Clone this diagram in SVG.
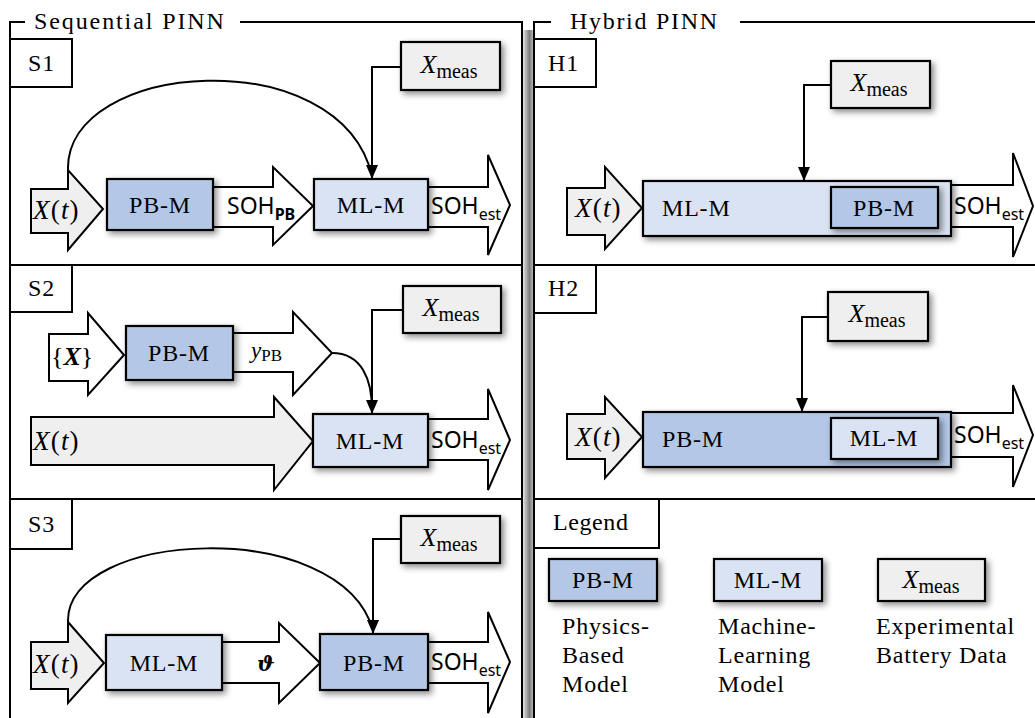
<svg xmlns="http://www.w3.org/2000/svg" width="1035" height="718" viewBox="0 0 1035 718" font-family="Liberation Serif, serif">
<style>
.frame{fill:none;stroke:#000;stroke-width:2}
.lbl{fill:#fff;stroke:#000;stroke-width:2}
.pb{fill:#b4c7e7;stroke:#000;stroke-width:2.2;filter:url(#sh)}
.ml{fill:#dae3f3;stroke:#000;stroke-width:2.2;filter:url(#sh)}
.xm{fill:#efefef;stroke:#000;stroke-width:2.2;filter:url(#sh)}
.arw{fill:#fff;stroke:#000;stroke-width:2;stroke-linejoin:miter}
.arg{fill:#efefef;stroke:#000;stroke-width:2;stroke-linejoin:miter}
.con{fill:none;stroke:#000;stroke-width:2}
.t{font-size:24px;letter-spacing:0.8px;fill:#000}
.c{text-anchor:middle}
.m{font-size:26px;fill:#000}
.xt{font-size:27px;letter-spacing:1.2px;fill:#000}
.i{font-style:italic}
.sub{font-size:20px}
.s{font-size:23px;fill:#000}
.ss{font-size:16px}
</style>
<defs>
<filter id="sh" x="-20%" y="-30%" width="140%" height="170%">
<feDropShadow dx="3" dy="3" stdDeviation="3" flood-color="#000" flood-opacity="0.45"/>
</filter>
<linearGradient id="gap" x1="0" y1="0" x2="1" y2="0">
<stop offset="0" stop-color="#e4e4e4"/>
<stop offset="0.65" stop-color="#7c7c7c"/>
<stop offset="1" stop-color="#b4b4b4"/>
</linearGradient>
<marker id="ah" viewBox="0 0 14 12" refX="14" refY="6" markerWidth="14" markerHeight="12" markerUnits="userSpaceOnUse" orient="auto">
<path d="M0,0 L14,6 L0,12 Z" fill="#000"/>
</marker>
</defs>

<!-- frames -->
<g id="frames">
<rect x="523" y="30" width="10" height="688" fill="url(#gap)"/>
<path class="frame" d="M10,718 V22 H25 M240,22 H522 V718"/>
<path class="frame" d="M534,718 V22 H551 M740,22 H1035"/>
<path class="frame" d="M10,265 H522 M10,499 H522 M534,265 H1035 M534,499 H1035"/>
<text class="t" x="34" y="29" style="letter-spacing:1.9px">Sequential PINN</text>
<text class="t" x="570" y="29" style="letter-spacing:1.7px">Hybrid PINN</text>
</g>

<!-- panel labels -->
<g id="label-S1"><rect class="lbl" x="10" y="39" width="62" height="48"/><text class="t" x="28" y="71">S1</text></g>
<g id="label-S2"><rect class="lbl" x="10" y="265" width="62" height="47"/><text class="t" x="28" y="296">S2</text></g>
<g id="label-S3"><rect class="lbl" x="10" y="499" width="62" height="50"/><text class="t" x="28" y="532">S3</text></g>
<g id="label-H1"><rect class="lbl" x="534" y="39" width="62" height="48"/><text class="t" x="548" y="71">H1</text></g>
<g id="label-H2"><rect class="lbl" x="534" y="265" width="62" height="48"/><text class="t" x="548" y="296">H2</text></g>
<g id="label-Legend"><rect class="lbl" x="534" y="499" width="125" height="49"/><text class="t" x="553" y="530" style="letter-spacing:0.6px">Legend</text></g>

<!-- S1 -->
<g id="s1-xt"><polygon class="arg" points="31,189 68,189 68,170 103,209 68,250 68,233 31,233"/>
<text class="xt" x="33" y="219"><tspan class="i">X</tspan>(<tspan class="i">t</tspan>)</text></g>
<g id="s1-sohpb"><polygon class="arw" points="213,187 273,187 273,167 313,206 273,245 273,227 213,227"/>
<text class="s" font-family="Noto Sans, DejaVu Sans, sans-serif" x="227" y="214">SOH<tspan class="ss" dy="6" font-weight="bold">PB</tspan></text></g>
<g id="s1-sohest"><polygon class="arw" points="428,187 488,187 488,155 510,205 488,255 488,227 428,227"/>
<text class="s" font-family="Noto Sans, DejaVu Sans, sans-serif" x="431" y="214">SOH<tspan class="ss" dy="6">est</tspan></text></g>
<g id="s1-pbm"><rect class="pb" x="107" y="179" width="106" height="51"/><text class="t c" x="160" y="213">PB-M</text></g>
<g id="s1-mlm"><rect class="ml" x="314" y="179" width="114" height="51"/><text class="t c" x="371" y="213">ML-M</text></g>
<g id="s1-xmeas"><rect class="xm" x="401" y="42" width="99" height="48"/><text class="m c" x="449" y="73"><tspan class="i">X</tspan><tspan class="sub" dy="5">meas</tspan></text></g>

<!-- S2 -->
<g id="s2-x"><polygon class="arw" points="49,334 88,334 88,313 124,355 88,395 88,381 49,381"/>
<text class="m" x="51" y="365">{<tspan class="i" font-weight="bold">X</tspan>}</text></g>
<g id="s2-ypb"><polygon class="arw" points="233,333 293,333 293,312 332,353 293,395 293,372 233,372"/>
<text class="m" x="251" y="358"><tspan class="i" font-size="23">y</tspan><tspan font-size="17" dy="3">PB</tspan></text></g>
<g id="s2-xt"><polygon class="arg" points="31,417 274,417 274,397 313,441 274,490 274,465 31,465"/>
<text class="xt" x="33" y="450"><tspan class="i">X</tspan>(<tspan class="i">t</tspan>)</text></g>
<g id="s2-sohest"><polygon class="arw" points="428,419 488,419 488,389 510,440 488,490 488,460 428,460"/>
<text class="s" font-family="Noto Sans, DejaVu Sans, sans-serif" x="431" y="448">SOH<tspan class="ss" dy="6">est</tspan></text></g>
<g id="s2-pbm"><rect class="pb" x="126" y="326" width="107" height="54"/><text class="t c" x="179" y="361">PB-M</text></g>
<g id="s2-mlm"><rect class="ml" x="313" y="414" width="115" height="53"/><text class="t c" x="370" y="449">ML-M</text></g>
<g id="s2-xmeas"><rect class="xm" x="403" y="286" width="98" height="47"/><text class="m c" x="451" y="316"><tspan class="i">X</tspan><tspan class="sub" dy="5">meas</tspan></text></g>

<!-- S3 -->
<g id="s3-xt"><polygon class="arg" points="31,642 68,642 68,622 104,663 68,703 68,689 31,689"/>
<text class="xt" x="33" y="673"><tspan class="i">X</tspan>(<tspan class="i">t</tspan>)</text></g>
<g id="s3-theta"><polygon class="arw" points="222,642 279,642 279,623 320,663 279,703 279,683 222,683"/>
<text x="257" y="671" font-family="DejaVu Serif, serif" font-size="21" font-weight="bold" font-style="italic">ϑ</text></g>
<g id="s3-sohest"><polygon class="arw" points="428,642 488,642 488,612 510,662 488,713 488,683 428,683"/>
<text class="s" font-family="Noto Sans, DejaVu Sans, sans-serif" x="431" y="670">SOH<tspan class="ss" dy="6">est</tspan></text></g>
<g id="s3-mlm"><rect class="ml" x="106" y="635" width="116" height="55"/><text class="t c" x="164" y="671">ML-M</text></g>
<g id="s3-pbm"><rect class="pb" x="320" y="634" width="108" height="56"/><text class="t c" x="374" y="671">PB-M</text></g>
<g id="s3-xmeas"><rect class="xm" x="401" y="516" width="99" height="47"/><text class="m c" x="449" y="546"><tspan class="i">X</tspan><tspan class="sub" dy="5">meas</tspan></text></g>

<!-- H1 -->
<g id="h1-xt"><polygon class="arg" points="567,188 605,188 605,167 642,208 605,249 605,235 567,235"/>
<text class="xt" x="575" y="217"><tspan class="i">X</tspan>(<tspan class="i">t</tspan>)</text></g>
<g id="h1-sohest"><polygon class="arw" points="951,185 1013,185 1013,153 1033,206 1013,257 1013,227 951,227"/>
<text class="s" font-family="Noto Sans, DejaVu Sans, sans-serif" x="954" y="214">SOH<tspan class="ss" dy="6">est</tspan></text></g>
<g id="h1-mlm"><rect class="ml" x="643" y="181" width="308" height="55"/><text class="t" x="662" y="216">ML-M</text></g>
<g id="h1-pbm"><rect class="pb" x="831" y="187" width="107" height="41"/><text class="t c" x="884" y="216">PB-M</text></g>
<g id="h1-xmeas"><rect class="xm" x="831" y="61" width="99" height="47"/><text class="m c" x="879" y="91"><tspan class="i">X</tspan><tspan class="sub" dy="5">meas</tspan></text></g>

<!-- H2 -->
<g id="h2-xt"><polygon class="arg" points="567,414 605,414 605,397 642,437 605,478 605,459 567,459"/>
<text class="xt" x="575" y="446"><tspan class="i">X</tspan>(<tspan class="i">t</tspan>)</text></g>
<g id="h2-sohest"><polygon class="arw" points="951,413 1013,413 1013,385 1033,435 1013,487 1013,457 951,457"/>
<text class="s" font-family="Noto Sans, DejaVu Sans, sans-serif" x="954" y="443">SOH<tspan class="ss" dy="6">est</tspan></text></g>
<g id="h2-pbm"><rect class="pb" x="643" y="412" width="308" height="55"/><text class="t" x="662" y="447">PB-M</text></g>
<g id="h2-mlm"><rect class="ml" x="831" y="418" width="107" height="41"/><text class="t c" x="884" y="446">ML-M</text></g>
<g id="h2-xmeas"><rect class="xm" x="828" y="292" width="100" height="49"/><text class="m c" x="877" y="322"><tspan class="i">X</tspan><tspan class="sub" dy="5">meas</tspan></text></g>

<!-- Legend -->
<g id="legend-pbm"><rect class="pb" x="549" y="559" width="108" height="42"/><text class="t c" x="603" y="588">PB-M</text>
<text class="t" x="562" y="634">Physics-</text><text class="t" x="562" y="663">Based</text><text class="t" x="562" y="692">Model</text></g>
<g id="legend-mlm"><rect class="ml" x="714" y="559" width="108" height="42"/><text class="t c" x="768" y="588">ML-M</text>
<text class="t" x="718" y="634">Machine-</text><text class="t" x="718" y="663">Learning</text><text class="t" x="718" y="692">Model</text></g>
<g id="legend-xmeas"><rect class="xm" x="878" y="559" width="107" height="42"/><text class="m c" x="931" y="588"><tspan class="i">X</tspan><tspan class="sub" dy="5">meas</tspan></text>
<text class="t" x="876" y="634">Experimental</text><text class="t" x="876" y="663">Battery Data</text></g>

<!-- connectors -->
<g id="connectors">
<path class="con" d="M401,67 H372 V179" marker-end="url(#ah)"/>
<path class="con" d="M68,170 C65,60 340,40 372,176"/>
<path class="con" d="M403,310 H372 V414" marker-end="url(#ah)"/>
<path class="con" d="M332,353 C362,353 372,380 372,410"/>
<path class="con" d="M401,539 H373 V634" marker-end="url(#ah)"/>
<path class="con" d="M68,622 C65,530 340,515 373,630"/>
<path class="con" d="M831,85 H804 V181" marker-end="url(#ah)"/>
<path class="con" d="M828,317 H802 V412" marker-end="url(#ah)"/>
</g>
</svg>
